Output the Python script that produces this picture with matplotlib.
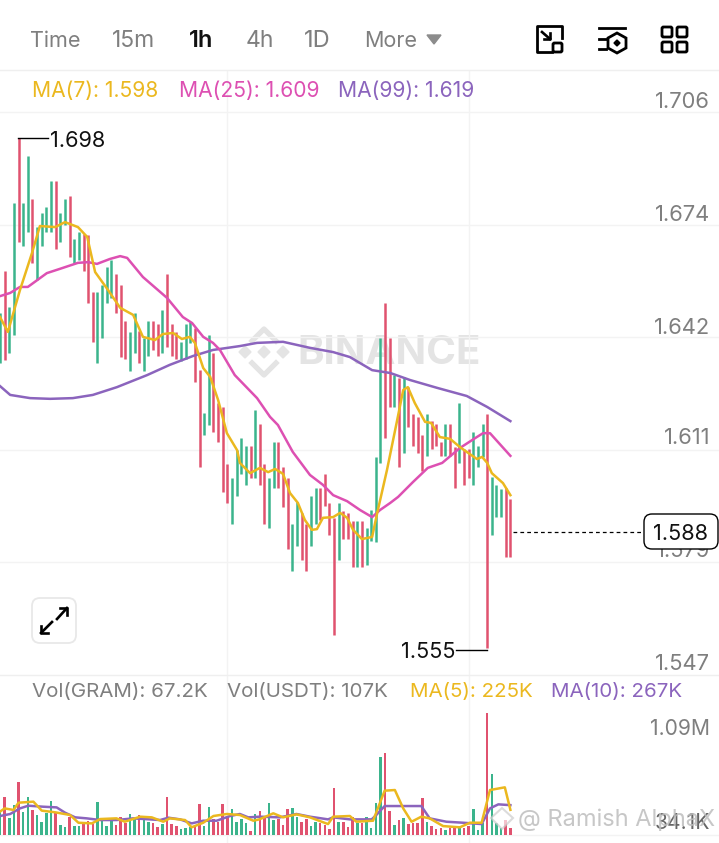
import matplotlib
matplotlib.use("Agg")
import matplotlib.pyplot as plt
from matplotlib.patches import FancyBboxPatch, Polygon
import numpy as np

plt.rcParams['font.family'] = ['Inter', 'DejaVu Sans']

W, H = 719, 843

# price candles, 1h, oldest first
highs = [1.6492, 1.6611, 1.6509, 1.6803, 1.6987, 1.6803, 1.6936, 1.6814, 1.6735, 1.6775,
         1.6792, 1.6865, 1.6865, 1.6775, 1.6814, 1.6823, 1.6701, 1.6721, 1.6715, 1.6713,
         1.6552, 1.6552, 1.6571, 1.6622, 1.6642, 1.6603, 1.6571, 1.6470, 1.6439, 1.6492,
         1.6442, 1.6422, 1.6470, 1.6470, 1.6461, 1.6501, 1.6603, 1.6461, 1.6439, 1.6411,
         1.6461, 1.6467, 1.6450, 1.6331, 1.6210, 1.6430, 1.6379, 1.6238, 1.6227, 1.6066,
         1.6026, 1.6105, 1.6139, 1.6117, 1.6117, 1.6219, 1.6179, 1.6066, 1.6026, 1.6128,
         1.6128, 1.6058, 1.6026, 1.5897, 1.5959, 1.5928, 1.5897, 1.5976, 1.5998, 1.5998,
         1.6038, 1.5956, 1.5914, 1.5956, 1.5933, 1.5928, 1.5905, 1.5905, 1.5905, 1.5885,
         1.5936, 1.6086, 1.6422, 1.6521, 1.6422, 1.6317, 1.6309, 1.6312, 1.6283, 1.6207,
         1.6199, 1.6148, 1.6207, 1.6187, 1.6179, 1.6128, 1.6179, 1.6179, 1.6114, 1.6238,
         1.6108, 1.6108, 1.6156, 1.6117, 1.6179, 1.6207, 1.6029, 1.6007, 1.5995, 1.5998,
         1.5967]
lows = [1.6351, 1.6360, 1.6379, 1.6430, 1.6693, 1.6682, 1.6721, 1.6634, 1.6586, 1.6682,
        1.6721, 1.6721, 1.6673, 1.6693, 1.6741, 1.6651, 1.6634, 1.6642, 1.6611, 1.6521,
        1.6411, 1.6351, 1.6422, 1.6521, 1.6535, 1.6492, 1.6368, 1.6363, 1.6329, 1.6379,
        1.6351, 1.6329, 1.6371, 1.6388, 1.6371, 1.6379, 1.6396, 1.6371, 1.6363, 1.6357,
        1.6363, 1.6408, 1.6298, 1.6058, 1.6148, 1.6176, 1.6156, 1.6128, 1.5987, 1.5956,
        1.5897, 1.5976, 1.6038, 1.6007, 1.6026, 1.6026, 1.6007, 1.5897, 1.5885, 1.5998,
        1.5998, 1.5945, 1.5826, 1.5764, 1.5834, 1.5795, 1.5764, 1.5834, 1.5897, 1.5908,
        1.5947, 1.5865, 1.5583, 1.5795, 1.5854, 1.5854, 1.5775, 1.5775, 1.5775, 1.5781,
        1.5849, 1.5846, 1.6069, 1.6139, 1.6227, 1.6227, 1.6058, 1.6097, 1.6171, 1.6117,
        1.6097, 1.6046, 1.6089, 1.6108, 1.6117, 1.6089, 1.6089, 1.6089, 1.5998, 1.6069,
        1.6007, 1.6026, 1.6007, 1.6058, 1.6086, 1.5545, 1.5865, 1.5916, 1.5916, 1.5803,
        1.5803]
# 1 = green, 0 = red
rising = [1, 0, 1, 1, 0, 1, 1, 0, 1, 1, 1, 1, 0, 1, 1, 0, 1, 1, 0, 0,
          0, 1, 1, 1, 1, 0, 0, 0, 1, 1, 0, 1, 1, 0, 0, 1, 0, 0, 0, 1,
          1, 1, 0, 0, 1, 1, 0, 0, 0, 0, 1, 1, 1, 1, 0, 1, 0, 0, 1, 1,
          0, 0, 0, 1, 1, 0, 0, 1, 1, 0, 0, 0, 0, 1, 0, 0, 0, 1, 0, 1,
          1, 1, 1, 0, 0, 1, 0, 1, 0, 0, 0, 0, 1, 0, 0, 0, 1, 0, 0, 1,
          0, 0, 1, 1, 1, 0, 1, 1, 1, 0, 0]
# volume in thousands of GRAM
volumes = [223, 343, 149, 265, 471, 203, 343, 223, 179, 119, 194, 301, 194, 92, 72, 164,
           80, 83, 98, 128, 98, 298, 134, 80, 128, 89, 158, 110, 185, 140, 179, 140,
           113, 104, 72, 98, 343, 98, 80, 51, 66, 72, 89, 274, 80, 250, 146, 119,
           277, 164, 229, 119, 140, 104, 39, 185, 218, 149, 283, 134, 140, 89, 229, 244,
           164, 119, 146, 80, 119, 110, 89, 51, 417, 119, 113, 72, 164, 104, 110, 164,
           66, 283, 694, 736, 215, 86, 134, 149, 98, 104, 110, 328, 113, 80, 57, 63,
           45, 63, 63, 80, 63, 80, 232, 45, 110, 1090, 542, 104, 60, 134, 67.2]

# moving averages, read at candle positions
ma7_at = [0.0, 1.7, 4.3, 6.9, 8.6, 11.9, 14.0, 16.8, 18.8, 20.5, 23.3, 25.9, 28.7, 30.8, 33.4,
          35.1, 37.3, 39.2, 40.9, 42.0, 43.8, 45.3, 47.0, 48.9, 51.1, 51.7, 53.9, 56.0, 57.8,
          59.3, 61.0, 62.5, 64.2, 65.7, 67.2, 68.3, 69.6, 71.8, 73.3, 74.8, 76.1, 78.0, 80.2,
          81.3, 83.4, 85.6, 86.9, 87.9, 89.4, 91.6, 92.9, 94.8, 97.0, 99.1, 100.6, 102.8,
          103.9, 105.0, 106.0, 108.4, 110.0]
ma7 = [1.6481, 1.6439, 1.6557, 1.6662, 1.6738, 1.6735, 1.6749, 1.6735, 1.6707, 1.6608, 1.6557,
       1.6507, 1.6487, 1.6425, 1.6416, 1.6433, 1.6436, 1.6419, 1.6425, 1.6408, 1.6337, 1.6312,
       1.6247, 1.6153, 1.6105, 1.6069, 1.6040, 1.6055, 1.6043, 1.6052, 1.6038, 1.5984, 1.5956,
       1.5908, 1.5880, 1.5882, 1.5914, 1.5916, 1.5928, 1.5914, 1.5880, 1.5854, 1.5860, 1.5928,
       1.6049, 1.6190, 1.6275, 1.6283, 1.6238, 1.6185, 1.6182, 1.6142, 1.6137, 1.6114, 1.6100,
       1.6080, 1.6086, 1.6069, 1.6040, 1.6012, 1.5978]
ma25_at = [0.0, 2.2, 4.3, 6.0, 10.1, 12.9, 16.8, 19.0, 20.9, 23.7, 25.9, 27.4, 30.8, 36.0, 39.4,
           41.4, 43.8, 45.9, 47.4, 50.6, 55.4, 58.2, 59.9, 63.1, 66.8, 69.6, 71.8, 74.8, 77.6,
           80.2, 81.9, 84.1, 85.8, 89.0, 92.2, 95.3, 99.1, 102.4, 104.1, 105.6, 110.0]
ma25 = [1.6540, 1.6549, 1.6566, 1.6566, 1.6605, 1.6617, 1.6634, 1.6636, 1.6631, 1.6645, 1.6653,
        1.6648, 1.6594, 1.6535, 1.6481, 1.6464, 1.6425, 1.6408, 1.6388, 1.6317, 1.6252, 1.6199,
        1.6176, 1.6100, 1.6035, 1.6007, 1.5978, 1.5961, 1.5936, 1.5916, 1.5936, 1.5956, 1.5973,
        1.6015, 1.6055, 1.6069, 1.6111, 1.6139, 1.6153, 1.6153, 1.6089]
ma99_at = [0, 2.2, 6.5, 10.8, 15.7, 20.0, 25.2, 31.7, 36.6, 41.6, 45.9, 51.7, 55.4, 61.0, 66.8,
           71.8, 75.4, 77.6, 80.2, 84.1, 88.4, 94.2, 100.6, 105.0, 110.0]
ma99 = [1.6286, 1.6261, 1.6252, 1.6250, 1.6252, 1.6261, 1.6283, 1.6317, 1.6346, 1.6371, 1.6388,
        1.6399, 1.6408, 1.6411, 1.6394, 1.6382, 1.6368, 1.6351, 1.6331, 1.6323, 1.6303, 1.6281,
        1.6258, 1.6227, 1.6187]
vol_ma5_at = [0, 1, 2.9, 4, 7.2, 9, 11.9, 15.1, 16.9, 19.8, 21.6, 25.1, 26.9, 30.2, 32.7, 35.2,
              36.6, 39.9, 41.3, 43.8, 46, 48.9, 51.7, 54.6, 55.9, 58.9, 61, 63.9, 66.8, 70.7,
              71.8, 75.4, 76.8, 80.4, 82.9, 85.1, 86.9, 88.7, 90.8, 92.6, 95.5, 99.1, 101.3,
              103.8, 105.6, 108.8, 110]
vol_ma5 = [209, 238, 224, 289, 298, 218, 203, 179, 110, 104, 143, 149, 119, 164, 158, 119,
           149, 134, 69, 110, 170, 188, 179, 128, 140, 194, 158, 185, 158, 98,
           164, 170, 119, 128, 396, 402, 238, 119, 164, 149, 80, 69, 110,
           110, 402, 426, 225]
vol_ma10_at = [0, 2.2, 4.3, 6.1, 9.3, 12.2, 14, 16.2, 18.7, 21.6, 25.1, 28.7, 32.3, 34.5, 36.3,
               38.8, 41.3, 43.8, 46.7, 49.6, 51.7, 53.5, 56, 60.3, 63.9, 66.8, 70.7, 71.8, 75.4,
               80.1, 81.1, 82.9, 90.8, 92.6, 96.2, 99.8, 103.8, 105.6, 107.4, 110]
vol_ma10 = [170, 188, 238, 262, 253, 247, 200, 158, 149, 134, 134, 149, 140, 134, 155,
            140, 104, 128, 128, 170, 188, 158, 164, 158, 188, 164, 140, 158, 140,
            140, 179, 259, 259, 149, 119, 110, 98, 238, 274, 267]

price_ticks = [1.706, 1.674, 1.642, 1.611, 1.579, 1.547]
price_grid = [1.706, 1.6741, 1.6425, 1.6105, 1.5789]
grid_idx = [49, 101]
last_price = 1.5875

GREEN = "#3bb48c"
RED = "#e0526f"
YELLOW = "#ebb81f"
MAGENTA = "#dd50b2"
PURPLE = "#8b64bd"
GREY = "#7f7f7f"
GRID = "#f3f3f3"
WM = "#e4e4e4"


def rect(left, top, right, bottom):
    return [left / W, 1 - bottom / H, (right - left) / W, (bottom - top) / H]


def pixel_axes(z):
    a = fig.add_axes([0, 0, 1, 1], zorder=z)
    a.set_xlim(0, W)
    a.set_ylim(H, 0)
    a.patch.set_alpha(0)
    a.axis("off")
    return a


def arrow(a, tip, tail, head=7):
    a.plot([tip[0], tail[0]], [tip[1], tail[1]], color="black", lw=1.9)
    sx = 1 if tail[0] > tip[0] else -1
    sy = 1 if tail[1] > tip[1] else -1
    a.plot([tip[0], tip[0], tip[0] + sx * head], [tip[1] + sy * head, tip[1], tip[1]], color="black", lw=1.9)


fig = plt.figure(figsize=(W / 100, H / 100), dpi=100, facecolor="white")
back = pixel_axes(0)
ax = fig.add_axes(rect(0, 70, W, 675), zorder=1)
vol_ax = fig.add_axes(rect(0, 675, W, H), zorder=1)
ui = pixel_axes(5)

idx = np.arange(len(highs))
colors = [GREEN if r else RED for r in rising]

# price panel
ax.set_xlim(0, W / 4.64)
ax.set_ylim(1.54701, 1.71786)
ax.axis("off")
for p in price_grid:
    ax.axhline(p, color=GRID, lw=1, zorder=0)
for g in grid_idx:
    ax.axvline(g, color=GRID, lw=1, zorder=0)
ax.vlines(idx, lows, highs, colors=colors, lw=1.8, capstyle="butt", zorder=2)
ax.plot(ma99_at, ma99, color=PURPLE, lw=1.8, zorder=3)
ax.plot(ma25_at, ma25, color=MAGENTA, lw=1.8, zorder=3)
ax.plot(ma7_at, ma7, color=YELLOW, lw=1.8, zorder=4)
ax.plot([idx[-1] + 0.5, 139], [last_price, last_price], color="black", lw=0.9, ls=(0, (3, 2.5)), zorder=3)

# volume panel
vol_ax.set_xlim(0, W / 4.64)
vol_ax.set_ylim(-71, 1429)
vol_ax.axis("off")
for g in grid_idx:
    vol_ax.axvline(g, color=GRID, lw=1, zorder=0)
vol_ax.axhline(0, color=GRID, lw=1, zorder=0)
vol_ax.bar(idx, volumes, width=0.56, color=colors, zorder=2)
vol_ax.plot(vol_ma10_at, vol_ma10, color=PURPLE, lw=1.8, zorder=3)
vol_ax.plot(vol_ma5_at, vol_ma5, color=YELLOW, lw=1.8, zorder=4)

# dividers
for yy in [70, 675]:
    ui.plot([0, W], [yy, yy], color="#efefef", lw=1)

# header tabs
for label, xx, col, wt, fs in [("Time", 30, GREY, "normal", 15.5), ("15m", 112, GREY, "normal", 16.5),
                               ("1h", 189, "#111111", "semibold", 17), ("4h", 246, GREY, "normal", 16.5),
                               ("1D", 304, GREY, "normal", 17), ("More", 364, GREY, "normal", 15.5)]:
    ui.text(xx, 41, label, color=col, fontsize=fs, fontweight=wt, va="center", ha="left")
ui.add_patch(Polygon([(427, 35), (441, 35), (434, 44)], color="#8c8c8c"))

# header icons
ui.plot([552, 537, 537, 562, 562], [52, 52, 26, 26, 38], color="black", lw=2, solid_joinstyle="round")
ui.add_patch(FancyBboxPatch((553, 43), 9, 9, boxstyle="round,pad=0,rounding_size=1.5", fc="none", ec="black", lw=2))
arrow(ui, (550, 39), (542, 32), head=6)
ui.plot([599, 625], [28, 28], color="black", lw=2)
ui.plot([599, 606], [39, 39], color="black", lw=2)
ui.plot([599, 606], [49, 49], color="black", lw=2)
ui.add_patch(Polygon([(617, 33), (626, 38), (626, 48), (617, 53), (608, 48), (608, 38)], fc="none", ec="black", lw=2))
ui.add_patch(Polygon([(617, 40), (620, 43), (617, 46), (614, 43)], color="black"))
for xx in [662, 677]:
    for yy in [27, 42]:
        ui.add_patch(FancyBboxPatch((xx, yy), 10, 10, boxstyle="round,pad=0,rounding_size=1.5", fc="none", ec="black", lw=2))

# legends
for label, xx, col in [("MA(7): 1.598", 32, YELLOW), ("MA(25): 1.609", 179, MAGENTA), ("MA(99): 1.619", 338, PURPLE)]:
    ui.text(xx, 91, label, color=col, fontsize=15.2, va="center", ha="left")
for label, xx, col in [("Vol(GRAM): 67.2K", 32, GREY), ("Vol(USDT): 107K", 227, GREY),
                       ("MA(5): 225K", 410, YELLOW), ("MA(10): 267K", 551, PURPLE)]:
    ui.text(xx, 692, label, color=col, fontsize=14.8, va="center", ha="left")

# axis labels, sitting above their gridlines
for p in price_ticks:
    yy = 675 - (p - 1.547) / (1.706 - 1.547) * 563
    ui.text(710, yy - 10.5, f"{p:.3f}", color=GREY, fontsize=15.8, va="center", ha="right", zorder=2)
ui.text(710, 729, "1.09M", color=GREY, fontsize=15.2, va="center", ha="right")
ui.text(710, 823, "34.1K", color="#666666", fontsize=15.2, va="center", ha="right")

# high / low markers
ui.plot([18, 48], [138, 138], color="black", lw=1)
ui.text(50, 141, "1.698", color="#111111", fontsize=15.6, va="center", ha="left")
ui.plot([456, 487], [650, 650], color="black", lw=1)
ui.text(456, 652, "1.555", color="#111111", fontsize=15.6, va="center", ha="right")

# current price box
ui.add_patch(FancyBboxPatch((644, 514), 74, 35, boxstyle="round,pad=0,rounding_size=8", fc="white", ec="black", lw=1, zorder=4))
ui.text(681, 534, "1.588", color="#111111", fontsize=15.6, va="center", ha="center", zorder=5)

# expand button
ui.add_patch(FancyBboxPatch((32, 598), 44, 45, boxstyle="round,pad=0,rounding_size=8", fc="white", ec="#e8e8e8", lw=1.3))
arrow(ui, (41, 633), (52, 622))
arrow(ui, (67, 608), (57, 619))

# watermarks
for cx, cy, r in [(264, 352, 6), (245, 352, 6), (283, 352, 6)]:
    back.add_patch(Polygon([(cx, cy - r), (cx + r, cy), (cx, cy + r), (cx - r, cy)], color=WM))
back.plot([252, 264, 276], [341, 329, 341], color=WM, lw=3.8)
back.plot([252, 264, 276], [363, 375, 363], color=WM, lw=3.8)
back.text(297, 354, "BINANCE", color=WM, fontsize=29, fontweight="bold", va="center", ha="left")
ui.text(518, 820, "@ Ramish AlphaX", color="#bdbdbd", alpha=0.85, fontsize=17, va="center", ha="left")
ui.add_patch(Polygon([(502, 808), (513, 818), (502, 829), (491, 818)], fc="white", ec="#c8c8c8", alpha=0.65, lw=1.5))

fig.savefig("out.png", dpi=100, facecolor="white")
